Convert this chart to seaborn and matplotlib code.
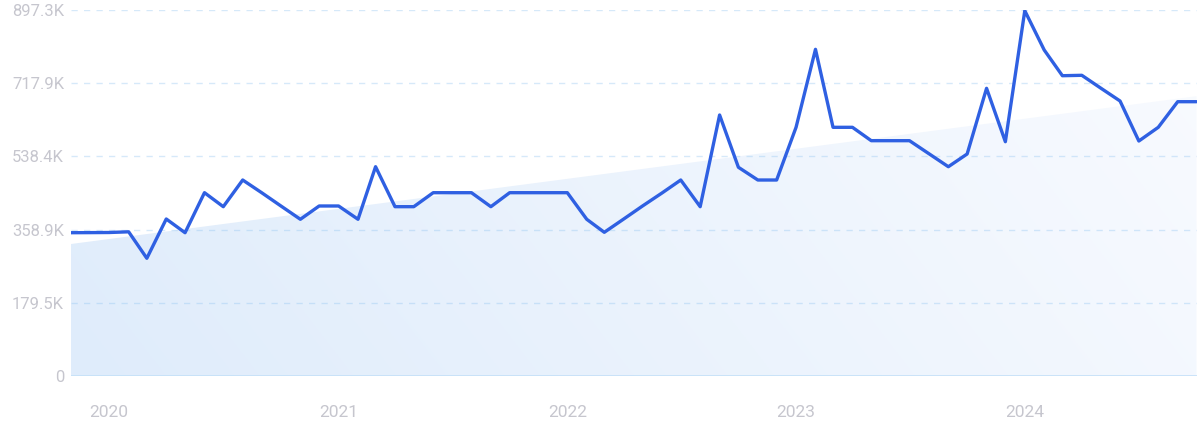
import numpy as np
import pandas as pd
import matplotlib
matplotlib.use("Agg")
import matplotlib.pyplot as plt
import seaborn as sns
from matplotlib.patches import Polygon

# ---- data (values in thousands) ----
months = pd.date_range("2019-11-01", periods=60, freq="MS")
values_k = [351.3, 351.5, 351.8, 353.5, 288.6, 384.9, 351.3, 449.4, 415.1, 480.5,
            448.6, 416.8, 384.2, 416.8, 416.8, 384.2, 513.1, 415.1, 415.1, 449.4,
            449.4, 449.4, 415.1, 449.4, 449.4, 449.4, 449.4, 384.2, 352.3, 384.9,
            416.8, 448.6, 480.5, 415.1, 639.9, 511.7, 480.5, 480.5, 609.7, 800.9,
            609.7, 609.7, 576.9, 576.9, 576.9, 545.0, 513.1, 544.3, 705.3, 574.4,
            895.6, 799.2, 736.2, 737.2, 706.0, 674.2, 576.1, 609.7, 672.5, 672.5]
trend_start_k = 323.6
trend_end_k = 686.0
ytick_vals_k = [0, 179.5, 358.9, 538.4, 717.9, 897.3]
ytick_labels = ["0", "179.5K", "358.9K", "538.4K", "717.9K", "897.3K"]
year_labels = ["2020", "2021", "2022", "2023", "2024"]

df = pd.DataFrame({"month": months, "value": np.array(values_k) * 1000})

sns.set_style("white")
plt.rcParams["font.family"] = ["Roboto", "DejaVu Sans"]

fig = plt.figure(figsize=(12, 4.32), dpi=100)
ax = fig.add_axes([71 / 1200, (432 - 376) / 432, (1196.5 - 71) / 1200, (376 - 10) / 432])

x0 = matplotlib.dates.date2num(months[0])
x1 = matplotlib.dates.date2num(months[-1])
ymax = 897.3e3

# gradient trend area
grad_w, grad_h = 400, 200
gx = np.linspace(0, 1, grad_w)
gy = np.linspace(0, 1, grad_h)
GX, GY = np.meshgrid(gx, gy)
t = np.clip(0.8 * GX + 0.2 * GY, 0, 1)  # GY=0 at bottom row (origin lower)
c_left = np.array([0xdf, 0xec, 0xfb]) / 255
c_right = np.array([0xf9, 0xfb, 0xff]) / 255
img = c_left[None, None, :] * (1 - t[..., None]) + c_right[None, None, :] * t[..., None]
im = ax.imshow(img, extent=[x0, x1, 0, ymax], origin="lower", aspect="auto", zorder=1)
poly = Polygon([[x0, 0], [x0, trend_start_k * 1000], [x1, trend_end_k * 1000], [x1, 0]],
               closed=True, facecolor="none", edgecolor="none", transform=ax.transData)
ax.add_patch(poly)
im.set_clip_path(poly)

# grid
for v in ytick_vals_k[1:]:
    ax.axhline(v * 1000, color="#8cc2f0", alpha=0.35, lw=1, ls=(0, (4.5, 4.5)), zorder=2)
ax.axhline(0, color="#c4e0f8", lw=1.2, zorder=2)

sns.lineplot(data=df, x="month", y="value", ax=ax, color="#2f60e2", lw=2.4, zorder=3)

ax.set_xlim(x0, x1)
ax.set_ylim(0, ymax)
ax.set_yticks([v * 1000 for v in ytick_vals_k])
ax.set_yticklabels(ytick_labels)
ax.set_xticks([matplotlib.dates.date2num(pd.Timestamp(f"{y}-01-01")) for y in year_labels])
ax.set_xticklabels(year_labels)
ax.tick_params(axis="y", length=0, pad=5, labelsize=12, labelcolor="#c6c6ce")
ax.tick_params(axis="x", length=0, pad=21, labelsize=12.5, labelcolor="#c6c6ce")
ax.set_xlabel("")
ax.set_ylabel("")
for s in ax.spines.values():
    s.set_visible(False)
ax.grid(False)

fig.savefig("out.png", dpi=100)
